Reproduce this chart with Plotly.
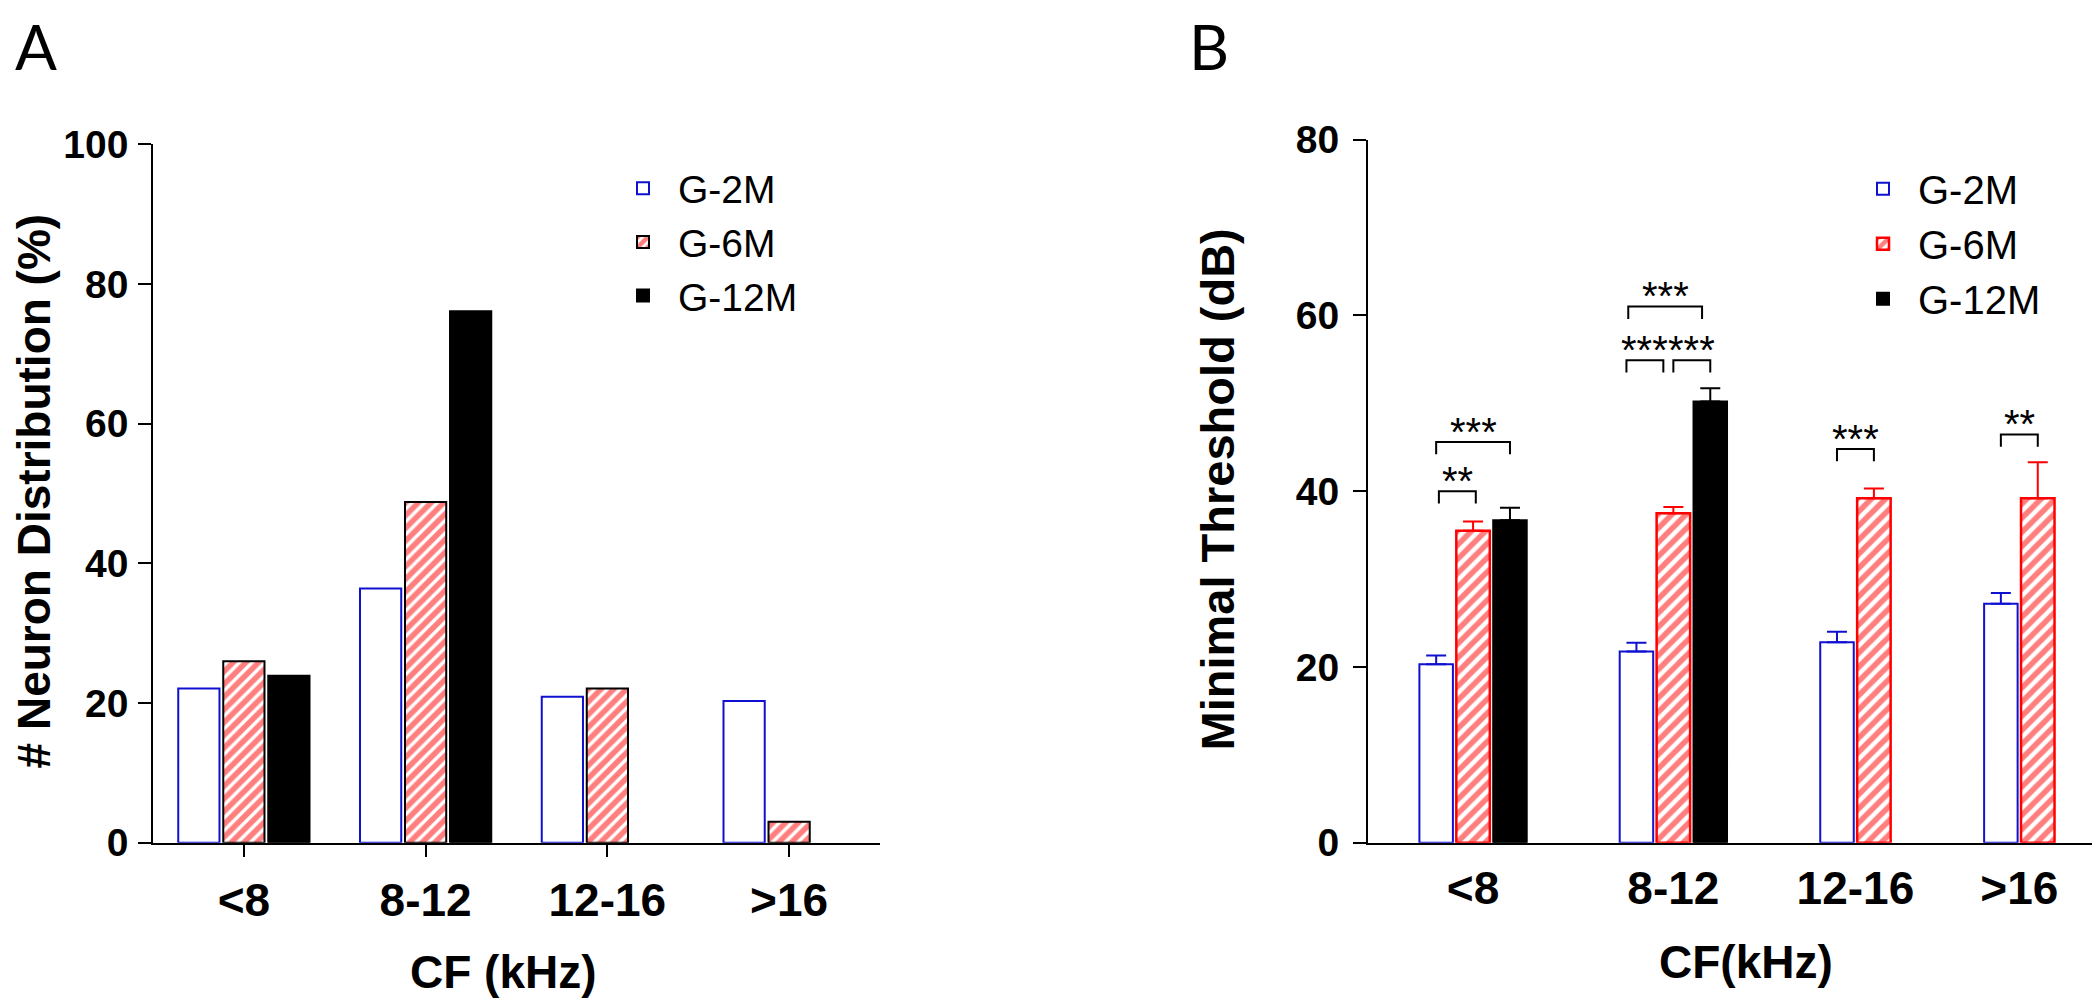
import plotly.graph_objects as go

# ---------------- data ----------------
CATEGORIES = ["<8", "8-12", "12-16", ">16"]
SERIES = ["G-2M", "G-6M", "G-12M"]

# Panel A: neuron distribution (%)
A_G2M = [22.1, 36.4, 20.9, 20.3]
A_G6M = [26.0, 48.8, 22.1, 3.0]
A_G12M = [23.9, 76.1, None, None]

# Panel B: minimal threshold (dB), mean and SEM
B_G2M = [20.3, 21.75, 22.8, 27.2]
B_G2M_ERR = [1.0, 1.0, 1.2, 1.2]
B_G6M = [35.5, 37.5, 39.2, 39.2]
B_G6M_ERR = [1.05, 0.7, 1.1, 4.1]
B_G12M = [36.7, 50.2, None, None]
B_G12M_ERR = [1.4, 1.5, None, None]

# significance comparisons in panel B
SIG_CAT = [0, 0, 1, 1, 1, 2, 3]          # category index
SIG_FROM = [0, 0, 0, 1, 0, 0, 0]         # series index (left end)
SIG_TO = [1, 2, 1, 2, 2, 1, 1]           # series index (right end)
SIG_TEXT = ["**", "***", "***", "***", "***", "***", "**"]
SIG_Y = [40.0, 45.6, 54.9, 54.9, 61.0, 44.8, 46.45]

# ---------------- layout / style constants ----------------
W, H = 2100, 1008
FONT = "Liberation Sans"
BLUE = "#1010d0"
RED = "#ff0000"
BLACK = "#000000"

B_POS = [0.0, 1.1, 2.1, 3.0]      # group positions on panel B axis
B_STEP = 0.2027                   # centre-to-centre distance of bars
B_WIDTH = 0.184                   # bar width
SIG_SHIFT = [0.015, 0.0, -0.055, 0.0, -0.045, 0.0, 0.0]
SIG_LEG = 1.4                     # bracket leg length (dB)
SIG_TEXT_GAP = 2.2                # star centre above bracket (dB)

fig = go.Figure()

# ---------------- panel A ----------------
fig.add_trace(go.Bar(
    x=CATEGORIES, y=A_G2M, name=SERIES[0], xaxis="x", yaxis="y", legend="legend",
    marker=dict(color="white", line=dict(color=BLUE, width=2)),
))
fig.add_trace(go.Bar(
    x=CATEGORIES, y=A_G6M, name=SERIES[1], xaxis="x", yaxis="y", legend="legend",
    marker=dict(color="white", line=dict(color=BLACK, width=2),
                pattern=dict(shape="/", fgcolor=RED, bgcolor="white", size=9, solidity=0.62)),
))
fig.add_trace(go.Bar(
    x=CATEGORIES, y=A_G12M, name=SERIES[2], xaxis="x", yaxis="y", legend="legend",
    marker=dict(color=BLACK, line=dict(color=BLACK, width=2)),
))

# ---------------- panel B ----------------
b_vals = [B_G2M, B_G6M, B_G12M]
b_errs = [B_G2M_ERR, B_G6M_ERR, B_G12M_ERR]


def bar_centre(c, s):
    present = [k for k, ser in enumerate(b_vals) if ser[c] is not None]
    n = len(present)
    i = present.index(s)
    return B_POS[c] + (i - (n - 1) / 2) * B_STEP


b_styles = [
    dict(color="white", line=dict(color=BLUE, width=2)),
    dict(color="white", line=dict(color=RED, width=2.5),
         pattern=dict(shape="/", fgcolor=RED, bgcolor="white", size=10, solidity=0.55)),
    dict(color=BLACK, line=dict(color=BLACK, width=2)),
]
b_err_colors = [BLUE, RED, BLACK]

for s in range(3):
    offs = []
    for c in range(len(CATEGORIES)):
        if b_vals[s][c] is None:
            offs.append(0)
        else:
            offs.append(bar_centre(c, s) - B_POS[c] - B_WIDTH / 2)
    fig.add_trace(go.Bar(
        x=B_POS, y=b_vals[s], name=SERIES[s], xaxis="x2", yaxis="y2", legend="legend2",
        offset=offs, width=B_WIDTH, marker=b_styles[s],
        error_y=dict(type="data", array=b_errs[s], arrayminus=[0] * len(CATEGORIES),
                     symmetric=False, color=b_err_colors[s], thickness=2, width=10),
    ))

# significance brackets and stars
shapes = []
annotations = []
for k in range(len(SIG_CAT)):
    x0 = bar_centre(SIG_CAT[k], SIG_FROM[k]) + SIG_SHIFT[k]
    x1 = bar_centre(SIG_CAT[k], SIG_TO[k]) + SIG_SHIFT[k]
    yt = SIG_Y[k]
    yb = yt - SIG_LEG
    shapes.append(dict(
        type="path", xref="x2", yref="y2",
        path=f"M{x0},{yb} L{x0},{yt} L{x1},{yt} L{x1},{yb}",
        line=dict(color=BLACK, width=2),
    ))
    annotations.append(dict(
        x=(x0 + x1) / 2, y=yt + SIG_TEXT_GAP, xref="x2", yref="y2",
        text=SIG_TEXT[k], showarrow=False, xanchor="center", yanchor="middle",
        yshift=-9, font=dict(family=FONT, size=40, color=BLACK),
    ))

# titles and panel letters
annotations += [
    dict(text="A", x=5 / W, y=1.0, xref="paper", yref="paper", xanchor="left", yanchor="top",
         yshift=22, showarrow=False, font=dict(family="Lato", size=62, color=BLACK)),
    dict(text="B", x=1179 / W, y=1.0, xref="paper", yref="paper", xanchor="left", yanchor="top",
         yshift=22, showarrow=False, font=dict(family="Lato", size=62, color=BLACK)),
    dict(text="# Neuron Distribution (%)", x=26 / W, y=1 - 483 / H, xref="paper", yref="paper",
         textangle=-90, xanchor="center", yanchor="middle", showarrow=False,
         font=dict(family=FONT, size=46, color=BLACK, weight="bold")),
    dict(text="Minimal Threshold (dB)", x=1209 / W, y=1 - 481 / H, xref="paper", yref="paper",
         textangle=-90, xanchor="center", yanchor="middle", showarrow=False,
         font=dict(family=FONT, size=47, color=BLACK, weight="bold")),
    dict(text="CF (kHz)", x=495.5 / W, y=1 - 985 / H, xref="paper", yref="paper",
         xanchor="center", yanchor="middle", showarrow=False,
         font=dict(family=FONT, size=46, color=BLACK, weight="bold")),
    dict(text="CF(kHz)", x=1737.5 / W, y=1 - 975 / H, xref="paper", yref="paper",
         xanchor="center", yanchor="middle", showarrow=False,
         font=dict(family=FONT, size=46, color=BLACK, weight="bold")),
]

tick_font = dict(family=FONT, size=39, color=BLACK, weight="bold")
cat_font = dict(family=FONT, size=46, color=BLACK, weight="bold")

fig.update_layout(
    width=W, height=H,
    margin=dict(l=0, r=0, t=0, b=0),
    paper_bgcolor="white", plot_bgcolor="white",
    barmode="group", bargap=0.257, bargroupgap=0.084,
    showlegend=True,
    xaxis=dict(
        domain=[145 / W, 872 / W], anchor="y", type="category", range=[-0.5, 3.5],
        showline=True, linecolor=BLACK, linewidth=1.5, showgrid=False, zeroline=False,
        ticks="outside", ticklen=13, tickwidth=1.5, tickcolor=BLACK,
        tickfont=cat_font, ticklabelstandoff=3,
    ),
    yaxis=dict(
        domain=[1 - 850 / H, 1 - 120.5 / H], anchor="x", range=[0, 100],
        tickvals=[0, 20, 40, 60, 80, 100],
        showline=True, linecolor=BLACK, linewidth=1.5, showgrid=False, zeroline=False,
        ticks="outside", ticklen=13, tickwidth=1.5, tickcolor=BLACK,
        tickfont=tick_font, ticklabelstandoff=2,
    ),
    xaxis2=dict(
        domain=[1360 / W, 1.0], anchor="y2", range=[-0.577, 3.487],
        tickvals=B_POS, ticktext=CATEGORIES,
        showline=True, linecolor=BLACK, linewidth=2, showgrid=False, zeroline=False,
        ticks="", tickfont=cat_font, ticklabelstandoff=4,
    ),
    yaxis2=dict(
        domain=[1 - 850 / H, 1 - 115.5 / H], anchor="x2", range=[0, 80],
        tickvals=[0, 20, 40, 60, 80],
        showline=True, linecolor=BLACK, linewidth=2, showgrid=False, zeroline=False,
        ticks="outside", ticklen=13, tickwidth=2, tickcolor=BLACK,
        tickfont=tick_font, ticklabelstandoff=6,
    ),
    legend=dict(
        x=600 / W, y=1 - 133 / H, xanchor="left", yanchor="top",
        font=dict(family=FONT, size=39, color=BLACK), bgcolor="rgba(0,0,0,0)",
        itemwidth=60, tracegroupgap=0,
    ),
    legend2=dict(
        x=1840 / W, y=1 - 133 / H, xanchor="left", yanchor="top",
        font=dict(family=FONT, size=40, color=BLACK), bgcolor="rgba(0,0,0,0)",
        itemwidth=60, tracegroupgap=0,
    ),
    shapes=shapes,
    annotations=annotations,
)

fig.write_html("out.html")
